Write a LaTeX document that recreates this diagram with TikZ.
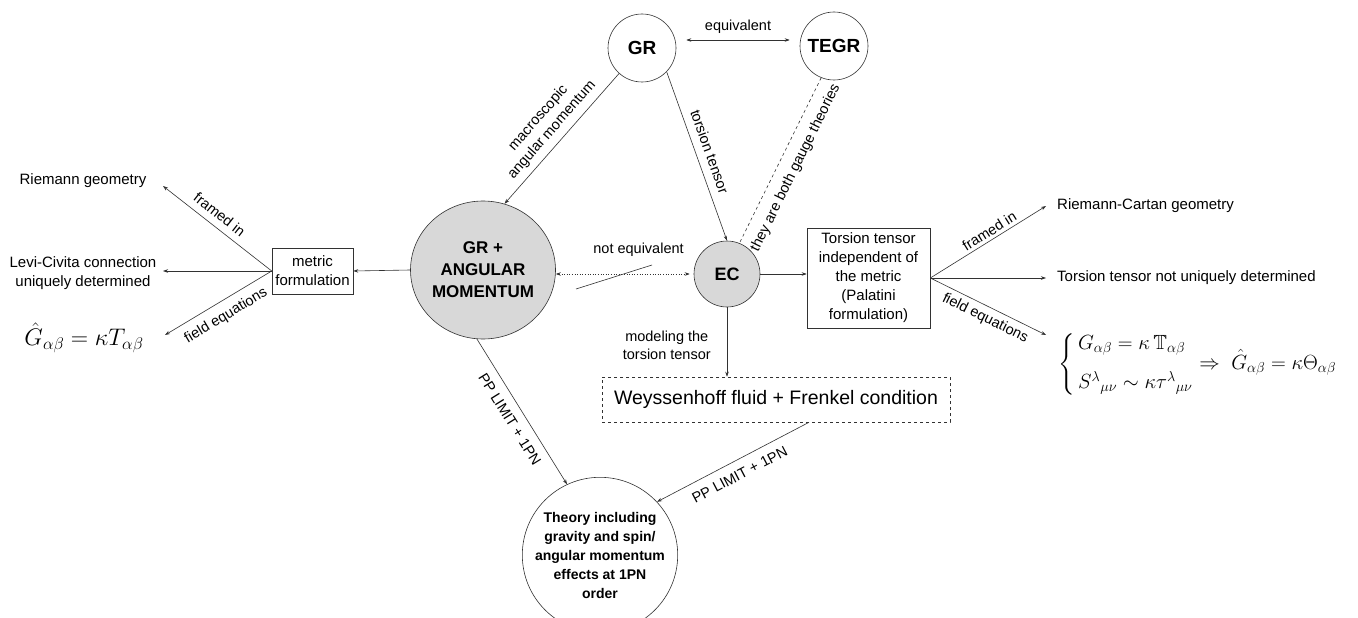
\RequirePackage{fix-cm}
\documentclass[tikz,border=0pt]{standalone}
\usepackage{amsmath,amssymb}
\usepackage{fontspec}
\setmainfont{Liberation Sans}
\usetikzlibrary{arrows.meta,shapes.geometric}
\definecolor{fillgray}{RGB}{216,216,216}
\definecolor{linecol}{RGB}{50,50,50}
\tikzset{
  ln/.style={draw=linecol, line width=0.6pt},
  arr/.style={ln, -{Stealth[length=5pt,width=3.5pt]}},
  darr/.style={ln, {Stealth[length=5pt,width=3.5pt]}-{Stealth[length=5pt,width=3.5pt]}},
  lbl/.style={font=\fontsize{14.5}{18}\selectfont, inner sep=0pt, align=center, text=black},
  txt/.style={font=\fontsize{15}{19}\selectfont, inner sep=0pt, align=center},
  circ/.style={circle, draw=linecol, line width=0.6pt, inner sep=0pt, align=center},
  boxn/.style={rectangle, draw=linecol, line width=0.6pt, inner sep=0pt, align=center},
}
\begin{document}
\begin{tikzpicture}[x=1pt,y=-1pt]
\useasboundingbox[fill=white] (0,0) rectangle (1358,618);

% main nodes
\node[circ, minimum size=68pt, font=\bfseries\fontsize{19}{22}\selectfont] (GR) at (642,48) {GR};
\node[circ, minimum size=68pt, font=\bfseries\fontsize{19}{22}\selectfont] (TEGR) at (834,46) {TEGR};
\node[ellipse, draw=linecol, line width=0.6pt, fill=fillgray, minimum width=145pt, minimum height=138pt, inner sep=0pt, align=center, font=\bfseries\fontsize{17}{22}\selectfont] (AM) at (483,270) {GR +\\ANGULAR\\MOMENTUM};
\node[circ, fill=fillgray, minimum size=66pt, font=\bfseries\fontsize{18}{22}\selectfont] (EC) at (727,274) {EC};
\node[boxn, minimum width=81pt, minimum height=46pt, font=\fontsize{15}{19}\selectfont] (MF) at (312.5,271) {metric\\formulation};
\node[boxn, minimum width=123pt, minimum height=100pt, font=\fontsize{15}{19}\selectfont] (TT) at (868.5,278) {Torsion tensor\\independent of\\the metric\\(Palatini\\formulation)};
\node[boxn, dashed, minimum width=348pt, minimum height=45pt, font=\fontsize{19.5}{22}\selectfont] (WF) at (776,399.5) {Weyssenhoff fluid + Frenkel condition};
\node[circ, minimum size=154pt, font=\bfseries\fontsize{14}{19}\selectfont] (TH) at (600,555) {Theory including\\gravity and spin/\\angular momentum\\effects at 1PN\\order};

% left texts
\node[txt] (RG) at (83,181) {Riemann geometry};
\node[txt] (LC) at (83,273) {Levi-Civita connection\\uniquely determined};
\node[inner sep=0pt, font=\fontsize{24}{27}\selectfont] (EQL) at (84,338) {$\hat{G}_{\alpha\beta} = \kappa T_{\alpha\beta}$};

% right texts
\node[txt, anchor=west] (RC) at (1057,206) {Riemann-Cartan geometry};
\node[txt, anchor=west] (TN) at (1057,278) {Torsion tensor not uniquely determined};
\node[inner sep=0pt, anchor=west, font=\fontsize{20.5}{24}\selectfont] (EQR) at (1058,364) {$\left\{\begin{array}{@{\,}l@{}} G_{\alpha\beta} = \kappa\,\mathbb{T}_{\alpha\beta}\\[15pt] S^{\lambda}{}_{\mu\nu} \sim \kappa\tau^{\lambda}{}_{\mu\nu}\end{array}\right. \Rightarrow\ \hat{G}_{\alpha\beta} = \kappa\Theta_{\alpha\beta}$};

% free-end coordinates
\coordinate (l1) at (163,186);
\coordinate (l2) at (163,271);
\coordinate (l3) at (165,335);
\coordinate (r1) at (1046,206);
\coordinate (r2) at (1046,278);
\coordinate (r3) at (1046,335);
\coordinate (s1) at (576,289);
\coordinate (s2) at (652,265);

% connectors
\draw[darr, shorten <=10pt, shorten >=10pt] ([yshift=8pt]GR.east) -- node[lbl, above=6pt] {equivalent} ([yshift=6pt]TEGR.west);
\draw[arr] (GR.-132) -- node[lbl, sloped, above=6pt] {macroscopic\\angular momentum} (AM.72);
\draw[arr] (GR.-44) -- node[lbl, sloped, above=8pt] {torsion tensor} (EC.north);
\draw[ln, dashed] (TEGR.248) -- node[lbl, sloped, below=10pt] {they are both gauge theories} (EC.68);
\draw[darr, dotted, shorten >=4pt] ([yshift=-4pt]AM.east) -- node[lbl, above=17pt, pos=0.6] {not equivalent} ([yshift=0pt]EC.west);
\draw[ln] (s1) -- (s2);
\draw[arr] (EC.east) -- (EC.east -| TT.west);
\draw[arr] (EC.south) -- node[lbl, left=16pt, pos=0.55] {modeling the\\torsion tensor} (EC.south |- WF.north);
\draw[arr] (AM.west) -- (MF.east);
\draw[arr] (MF.west) -- node[lbl, sloped, above=7pt, pos=0.55] {framed in} (l1);
\draw[arr] (MF.west) -- (l2);
\draw[arr] (MF.west) -- node[lbl, sloped, below=8pt] {field equations} (l3);
\draw[arr] (TT.east) -- node[lbl, sloped, above=3pt, pos=0.55] {framed in} (r1);
\draw[arr] (TT.east) -- (r2);
\draw[arr] (TT.east) -- node[lbl, sloped, below=5pt, pos=0.52] {field equations} (r3);
\draw[arr] (AM.265) -- node[lbl, sloped, below=9pt] {PP LIMIT + 1PN} (TH.115);
\draw[arr] ([xshift=33pt]WF.south) -- node[lbl, sloped, below=9pt] {PP LIMIT + 1PN} (TH.43);
\end{tikzpicture}
\end{document}
